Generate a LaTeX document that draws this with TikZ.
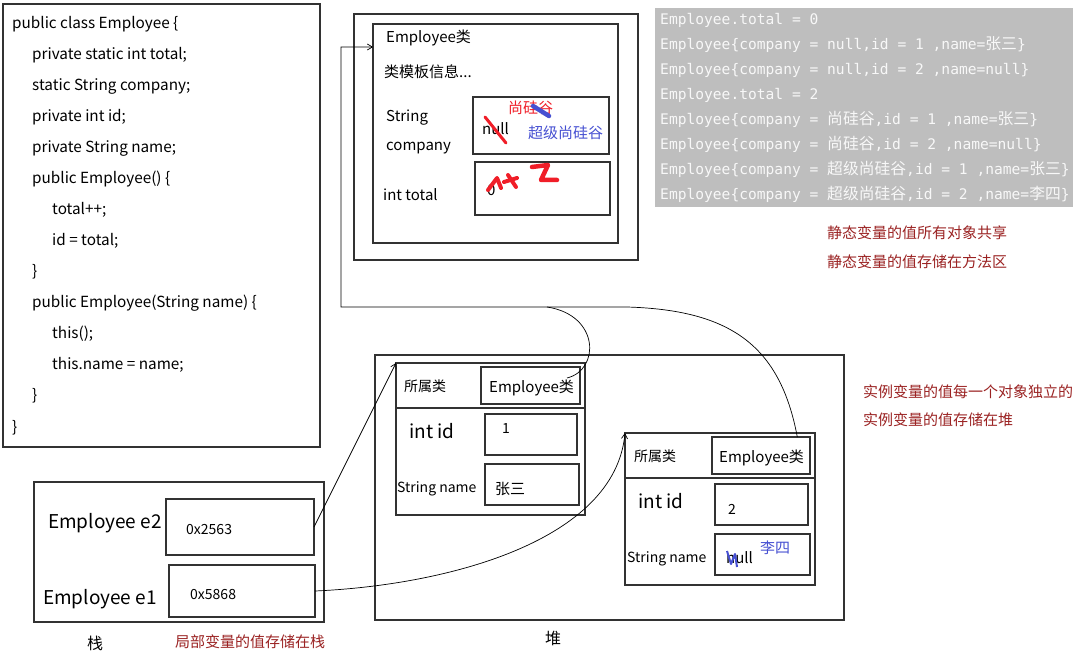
\documentclass[tikz,border=0pt]{standalone}
\usepackage{fontspec}
\setmainfont{Noto Sans CJK SC}
\newfontfamily\mono{DejaVu Sans Mono}
\newfontfamily\cjk{Noto Sans CJK SC}
\newcommand\cj[1]{{\cjk\fontsize{15.8}{17}\selectfont #1}}
\usetikzlibrary{fit,calc,arrows.meta}
\definecolor{notered}{RGB}{155,35,35}
\definecolor{inkred}{RGB}{240,30,40}
\definecolor{inkblue}{RGB}{70,80,210}
\definecolor{consolebg}{RGB}{190,190,190}
\definecolor{consolefg}{RGB}{248,248,248}
\definecolor{edge}{RGB}{50,50,50}
\begin{document}
\begin{tikzpicture}[x=1pt,y=-1pt,
  bx/.style={draw=edge, line width=1.1pt, inner sep=0pt, outer sep=0pt},
  lbl/.style={anchor=west, inner sep=0pt, yshift=-3pt, text height=0.75em, text depth=0.2em, font=\fontsize{15}{18}\selectfont},
  codel/.style={lbl, font=\fontsize{15.3}{18}\selectfont},
  small/.style={font=\fontsize{14}{16}\selectfont},
  big/.style={font=\fontsize{19}{21}\selectfont},
  cons/.style={lbl, text=consolefg, font=\mono\fontsize{14.6}{17}\selectfont},
  note/.style={lbl, text=notered, font=\fontsize{15}{17}\selectfont},
  conn/.style={draw=black, line width=0.7pt},
  tip/.style={-{Straight Barb[length=5pt,width=6pt]}},
  ink/.style={line width=4.5pt, line cap=round, line join=round},
  divider/.style={draw=edge, line width=1.1pt},
]
\useasboundingbox (0,0) rectangle (1075,668);
\fill[white] (0,0) rectangle (1075,668);

% ---------- code ----------
\node[bx, fit={(3,4) (320,447)}] (codebox) {};
\node[codel] (c1) at (12,23) {public class Employee \{};
\node[codel] (c2) at (32,54) {private static int total;};
\node[codel] (c3) at (32,85) {static String company;};
\node[codel] (c4) at (32,116) {private int id;};
\node[codel] (c5) at (32,147) {private String name;};
\node[codel] (c6) at (32,178) {public Employee() \{};
\node[codel] (c7) at (52,209) {total++;};
\node[codel] (c8) at (52,240) {id = total;};
\node[codel] (c9) at (32,271) {\}};
\node[codel] (c10) at (32,302) {public Employee(String name) \{};
\node[codel] (c11) at (52,333) {this();};
\node[codel] (c12) at (52,364) {this.name = name;};
\node[codel] (c13) at (32,395) {\}};
\node[codel] (c14) at (12,427) {\}};

% ---------- method area ----------
\node[bx, fit={(354,14) (638,260)}] (marea) {};
\node[bx, fit={(373,24) (618,243)}] (minner) {};
\node[lbl] (mcls) at (386,37) {Employee类};
\node[lbl] (mtpl) at (384,72) {类模板信息...};
\node[lbl] (mstr) at (386,116) {String};
\node[lbl] (mcomp) at (386,145) {company};
\node[bx, fit={(473,97) (609,154)}] (compbox) {};
\node[lbl] (mtot) at (383,195) {int total};
\node[bx, fit={(475,162) (610,215)}] (totbox) {};
\node[lbl] (vnull) at (482,129) {null};
\node[lbl, text=inkred] (vsgg) at (508,108) {尚硅谷};
\node[lbl, text=inkblue] (vcsgg) at (528,133) {超级尚硅谷};
\node[lbl] (vzero) at (487,190) {0};
\draw[ink, inkred, line width=3pt] (485,117) -- (506,143);
\draw[ink, inkblue] (533,106) -- (549,116);
\draw[ink, inkred, line width=4pt] (488,190) -- (497,178) -- (501,188);
\draw[ink, inkred, line width=4pt] (504,182) -- (517,178);
\draw[ink, inkred, line width=4pt] (508,175) -- (516,187);
\draw[ink, inkred] (532,167) -- (548,165) -- (541,180) -- (557,180);

% ---------- console ----------
\node[fill=consolebg, inner sep=0pt, fit={(655,8) (1073,207)}] (console) {};
\node[cons] (o1l) at (660,19) {Employee.total = 0};
\node[cons] (o2l) at (660,44) {Employee\{company = null,id = 1 ,name=\cj{张三}\}};
\node[cons] (o3l) at (660,69) {Employee\{company = null,id = 2 ,name=null\}};
\node[cons] (o4l) at (660,94) {Employee.total = 2};
\node[cons] (o5l) at (660,119) {Employee\{company = \cj{尚硅谷},id = 1 ,name=\cj{张三}\}};
\node[cons] (o6l) at (660,144) {Employee\{company = \cj{尚硅谷},id = 2 ,name=null\}};
\node[cons] (o7l) at (660,169) {Employee\{company = \cj{超级尚硅谷},id = 1 ,name=\cj{张三}\}};
\node[cons] (o8l) at (660,194) {Employee\{company = \cj{超级尚硅谷},id = 2 ,name=\cj{李四}\}};

% ---------- notes ----------
\node[note] (n1) at (827,233) {静态变量的值所有对象共享};
\node[note] (n2) at (827,262) {静态变量的值存储在方法区};
\node[note] (n3) at (863,392) {实例变量的值每一个对象独立的};
\node[note] (n4) at (863,420) {实例变量的值存储在堆};
\node[note] (n5) at (175,642) {局部变量的值存储在栈};

% ---------- heap ----------
\node[bx, fit={(375,355) (844,620)}] (heap) {};
\node[font=\fontsize{16}{18}\selectfont, inner sep=0pt] (heaplbl) at (553,638) {堆};

\node[bx, fit={(396,363) (585,515)}] (o1) {};
\draw[divider] (396,408) -- (585,408);
\node[lbl, small] (o1s) at (404,386) {所属类};
\node[bx, fit={(481,367) (580,404)}] (o1cls) {};
\node[lbl] (o1clst) at (489,387) {Employee类};
\node[lbl, big] (o1idl) at (409,433) {int id};
\node[bx, fit={(485,414) (577,455)}] (o1id) {};
\node[lbl, small] (o1idv) at (502,428) {1};
\node[lbl, small] (o1nl) at (397,487) {String name};
\node[bx, fit={(485,464) (579,505)}] (o1nm) {};
\node[lbl] (o1nv) at (495,489) {张三};

\node[bx, fit={(625,433) (815,585)}] (o2) {};
\draw[divider] (625,478) -- (815,478);
\node[lbl, small] (o2s) at (634,456) {所属类};
\node[bx, fit={(712,437) (810,474)}] (o2cls) {};
\node[lbl] (o2clst) at (719,457) {Employee类};
\node[lbl, big] (o2idl) at (638,503) {int id};
\node[bx, fit={(715,484) (808,525)}] (o2id) {};
\node[lbl, small] (o2idv) at (728,509) {2};
\node[lbl, small] (o2nl) at (627,557) {String name};
\node[bx, fit={(715,534) (810,575)}] (o2nm) {};
\node[lbl] (o2nv) at (726,558) {null};
\node[lbl, text=inkblue] (o2nnew) at (760,548) {李四};
\draw[inkblue, line width=2pt, line join=round] (727,551) -- (731,564) -- (735,554) -- (737,567);

% ---------- stack ----------
\node[bx, fit={(34,482) (324,622)}] (stack) {};
\node[lbl, big] (e2l) at (48,523) {Employee e2};
\node[bx, fit={(166,499) (314,555)}] (e2box) {};
\node[lbl, small] (e2v) at (186,529) {0x2563};
\node[lbl, big] (e1l) at (43,599) {Employee e1};
\node[bx, fit={(169,565) (315,617)}] (e1box) {};
\node[lbl, small] (e1v) at (190,594) {0x5868};
\node[font=\fontsize{16}{18}\selectfont, inner sep=0pt] (stacklbl) at (95,643) {栈};

% ---------- connectors ----------
\coordinate (j1) at (547,307);
\coordinate (k1) at (627,307);
\coordinate (k2) at (341,307);
\coordinate (k3) at (341,47);
\draw[conn, tip] (e2box.east) -- (o1.north west);
\draw[conn, tip] (e1box.east) .. controls (450,585) and (615,540) .. (o2.north west);
\draw[conn, tip] (o2cls.27) .. controls (780,345) and (730,310) .. (k1) -- (k2) -- (k3) -- (k3 -| minner.west);
\draw[conn] ($(o1cls.north east)+(-13,11)$) .. controls (600,370) and (600,315) .. (j1);
\end{tikzpicture}
\end{document}
